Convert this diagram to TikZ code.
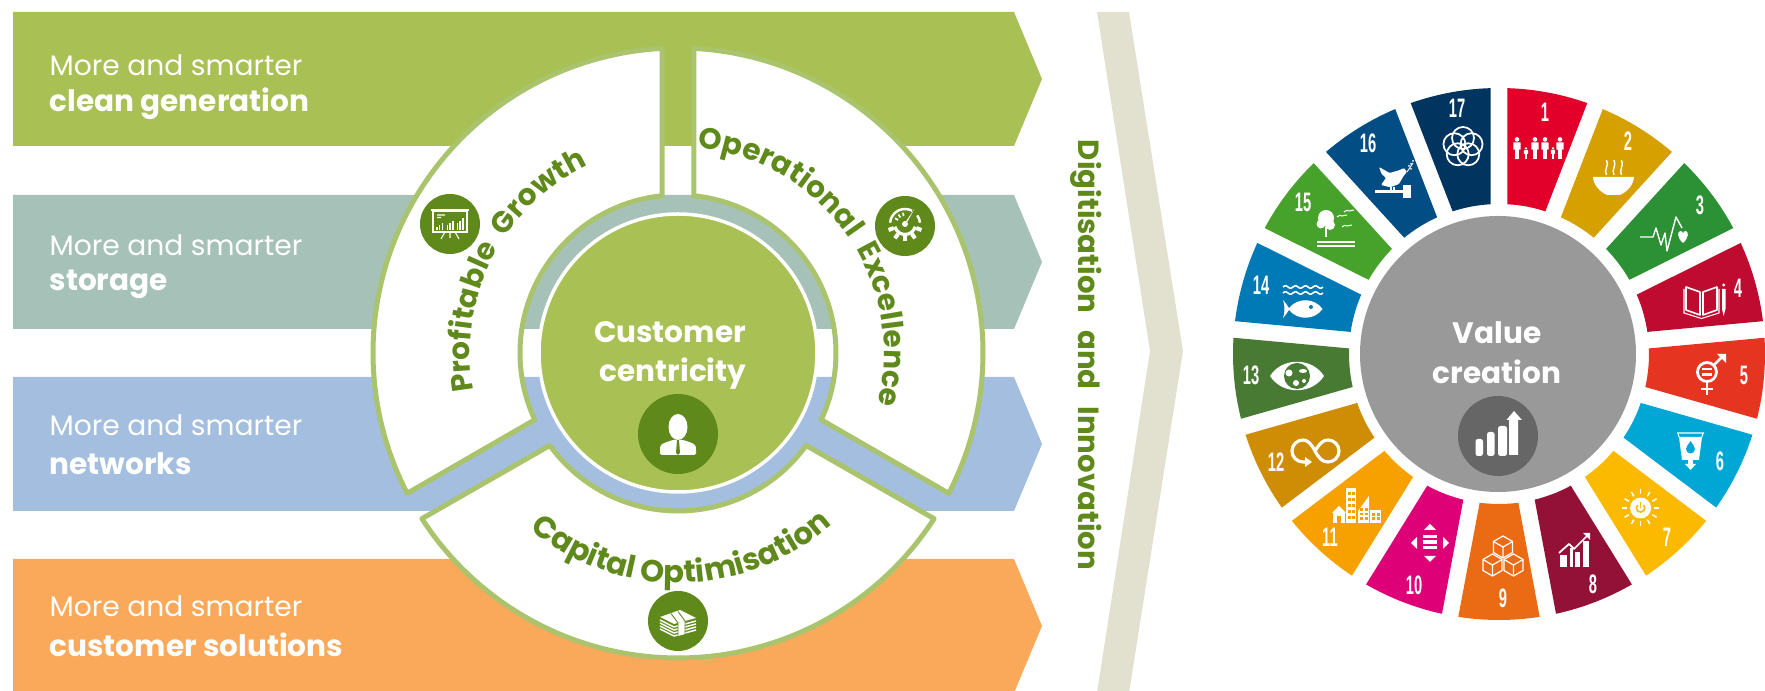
\documentclass[tikz,border=0pt]{standalone}
\usepackage{fontspec}
\usepackage{xcolor}
\setmainfont{Poppins}
\newfontfamily\numfont[FakeStretch=0.55]{Liberation Sans}
\usetikzlibrary{decorations.text}

\definecolor{barclean}{HTML}{A8C054}
\definecolor{barstorage}{HTML}{A6C2B8}
\definecolor{barnet}{HTML}{A3BEDE}
\definecolor{barcust}{HTML}{FAA859}
\definecolor{bandgrey}{HTML}{E2E0CF}
\definecolor{leafgreen}{HTML}{5F8A1B}
\definecolor{ringgreen}{HTML}{A9C46C}
\definecolor{hubgreen}{HTML}{A8C054}
\definecolor{valuegrey}{HTML}{999999}
\definecolor{darkgrey}{HTML}{666666}
\definecolor{sdg1}{HTML}{E2002A}
\definecolor{sdg2}{HTML}{D6A100}
\definecolor{sdg3}{HTML}{2C9135}
\definecolor{sdg4}{HTML}{C00B30}
\definecolor{sdg5}{HTML}{E53521}
\definecolor{sdg6}{HTML}{00A7D4}
\definecolor{sdg7}{HTML}{FBB900}
\definecolor{sdg8}{HTML}{931136}
\definecolor{sdg9}{HTML}{EB6A14}
\definecolor{sdg10}{HTML}{DD0077}
\definecolor{sdg11}{HTML}{F6A100}
\definecolor{sdg12}{HTML}{CF8D05}
\definecolor{sdg13}{HTML}{487A34}
\definecolor{sdg14}{HTML}{007AB7}
\definecolor{sdg15}{HTML}{47A22B}
\definecolor{sdg16}{HTML}{024D84}
\definecolor{sdg17}{HTML}{01345F}

\newcommand{\barfont}{\fontsize{8pt}{9pt}\selectfont}
\newcommand{\barboldfont}{\fontsize{8.4pt}{10pt}\selectfont\bfseries}
\newcommand{\digitfont}{\fontsize{8.3pt}{10pt}\selectfont\bfseries}
\newcommand{\hubfont}{\fontsize{8.4pt}{10pt}\selectfont\bfseries}
\newcommand{\arcfont}{\fontsize{8.4pt}{10pt}\selectfont\bfseries\color{leafgreen}}
\newcommand{\arcwidefont}{\fontsize{8.7pt}{10pt}\selectfont\bfseries\color{leafgreen}}
% little figure of goal 1: x, base, height
\newcommand{\sdgperson}[3]{
	\fill (#1,#2+#3*.89) circle[radius=#3*.105];
	\fill[rounded corners=.2] (#1-#3*.17,#2+#3*.42) rectangle (#1+#3*.17,#2+#3*.76);
	\fill (#1-#3*.11,#2) rectangle (#1+#3*.11,#2+#3*.5);
}
% cube of goal 9: x, y, edge
\newcommand{\sdgcube}[3]{
	\draw[line width=.35,line join=round] (#1,#2+#3) -- (#1+#3*.87,#2+#3*.5) -- (#1+#3*.87,#2-#3*.5) -- (#1,#2-#3) -- (#1-#3*.87,#2-#3*.5) -- (#1-#3*.87,#2+#3*.5) -- cycle;
	\draw[line width=.35] (#1-#3*.87,#2+#3*.5) -- (#1,#2) -- (#1+#3*.87,#2+#3*.5) (#1,#2) -- (#1,#2-#3);
}

\tikzset{
	barlabel/.style={anchor=west,inner sep=0pt,white,font=\barfont},
	barword/.style={anchor=west,inner sep=0pt,white,font=\barboldfont},
	hublabel/.style={inner sep=0pt,white,font=\hubfont},
	numlabel/.style={inner sep=0pt,white,font=\numfont\bfseries\fontsize{7.6pt}{8pt}\selectfont},
	wedge/.style={fill=white,draw=ringgreen,line width=.5mm,line join=round},
	arclabel/.style 2 args={decorate,decoration={text along path,text align={center},text={|#1|#2}}}
}

\begin{document}
\begin{tikzpicture}[x=0.01cm,y=0.01cm]
\useasboundingbox (0,0) rectangle (1765,691);
\clip (0,0) rectangle (1765,691);

\foreach \barcol/\bary in {barclean/545,barstorage/362,barnet/180,barcust/-2}{
	\fill[\barcol] (13,\bary) -- (1014,\bary) -- (1042,\bary+67) -- (1014,\bary+134) -- (13,\bary+134) -- cycle;
}
\fill[bandgrey] (1097,679) -- (1129,679) -- (1183,340) -- (1129,-2) -- (1097,-2) -- (1150,340) -- cycle;

\node[barlabel] (more1) at (49,626) {More and smarter};
\node[barword] (word1) at (49,587) {clean generation};
\node[barlabel] (more2) at (49,446) {More and smarter};
\node[barword] (word2) at (49,407) {storage};
\node[barlabel] (more3) at (49,266) {More and smarter};
\node[barword] (word3) at (49,227) {networks};
\node[barlabel] (more4) at (49,85) {More and smarter};
\node[barword] (word4) at (49,46) {customer solutions};

\node[inner sep=0pt,rotate=-90,text=leafgreen,font=\digitfont] (digit) at (1086,336) {Digitisation\hspace{.58em}and\hspace{.58em}Innovation};

% left wheel
\begin{scope}[shift={(678,338)}]
	\draw[wedge] (93:305) arc[start angle=93,end angle=207.4,radius=305] -- (205:158) arc[start angle=205,end angle=95.8,radius=158] -- cycle;
	\draw[wedge] (87:305) arc[start angle=87,end angle=-27.4,radius=305] -- (-25:158) arc[start angle=-25,end angle=84.2,radius=158] -- cycle;
	\draw[wedge] (212.9:305) arc[start angle=212.9,end angle=327.1,radius=305] -- (324.2:158) arc[start angle=324.2,end angle=215.8,radius=158] -- cycle;
	\draw[fill=hubgreen,draw=white,line width=.35mm] (0,0) circle[radius=139];
	\path[arclabel={\arcfont}{Profitable{ } Growth}] (200:208) arc[start angle=200,end angle=106,radius=208];
	\path[arclabel={\arcfont}{Operational{ } Excellence}] (95:206) arc[start angle=95,end angle=-25,radius=206];
	\path[arclabel={\arcwidefont}{Capital Optimisation}] (216:230) arc[start angle=216,end angle=326,radius=230];
\end{scope}
\node[hublabel] (customer) at (670,359) {Customer};
\node[hublabel] (centricity) at (673,317) {centricity};

% profitable growth icon
\fill[leafgreen] (450,467) circle[radius=30];
\begin{scope}[shift={(450,467)},white]
	\draw[line width=.3] (-17,-8) rectangle (17,13);
	\draw[line width=.5] (-19,14) -- (19,14);
	\draw[line width=.4] (-17,-8.5) -- (17,-8.5);
	\draw[line width=.3] (-13,9) -- (-5,9) (-13,6.5) -- (-9,6.5) (-5,-8) -- (-9,-15) (5,-8) -- (9,-15) (0,-8) -- (0,-14);
	\foreach \bx/\bh in {-14/3,-11.5/5,-8.5/7,-3.5/5,-1/7,2/9,6.5/7,9/9,12/12}{
		\fill (\bx,-6) rectangle (\bx+1.7,-6+\bh);
	}
\end{scope}
% operational excellence icon
\fill[leafgreen] (905,465) circle[radius=30];
\begin{scope}[shift={(905,467)},white]
	\draw[line width=.7] (175:15) arc[start angle=175,end angle=62,radius=15];
	\draw[line width=.7] (35:15) arc[start angle=35,end angle=5,radius=15];
	\foreach \ang in {150,125,100}{
		\draw[line width=.5] (\ang:8) -- (\ang:11.5);
	}
	\fill (-1.6,-1) -- (1.6,1) -- (9.5,15) -- cycle;
	\fill (0,0) circle[radius=3];
	\draw[line width=.9] (195:10.5) arc[start angle=195,end angle=345,radius=10.5];
	\foreach \ang in {200,235,270,305,340}{
		\fill[rotate=\ang] (12,-2) rectangle (17.5,2);
	}
\end{scope}
% capital optimisation icon
\fill[leafgreen] (678,70) circle[radius=30];
\begin{scope}[shift={(678,70)},white]
	\fill (-18,4) -- (2,11) -- (18,3) -- (-4,-3) -- cycle;
	\foreach \stk in {1,...,4}{
		\draw[line width=.42,line join=round] (-18,4-\stk*3) -- (-4,-3-\stk*3) -- (18,3-\stk*3);
	}
	\fill (0,-2) -- (7,0) -- (7,-13) -- (0,-15) -- cycle;
	\draw[leafgreen,line width=.25] (-7,7.5) -- (0,-2) -- (0,-15) (0,9.5) -- (7,0) -- (7,-13);
\end{scope}
% person icon
\fill[leafgreen] (678,257) circle[radius=40];
\begin{scope}[white]
	\fill (678,264) ellipse[x radius=9.5,y radius=13];
	\fill[rounded corners=.45] (660,236) -- (660,243) .. controls (661,248) and (668,249) .. (672,251) -- (684,251) .. controls (688,249) and (695,248) .. (696,243) -- (696,236) -- cycle;
	\fill[leafgreen] (677,251) -- (679,251) -- (680,238) -- (678,236) -- (676,238) -- cycle;
\end{scope}

% right wheel
\fill[valuegrey] (1498,337) circle[radius=138];
\begin{scope}[shift={(1499,337)}]
	\foreach \n in {1,...,17}{
		\pgfmathsetmacro{\aa}{90-(\n-1)*360/17}
		\pgfmathsetmacro{\ab}{\aa-360/17}
		\fill[sdg\n] (\aa-1.79:266) arc[start angle=\aa-1.79,end angle=\ab+1.79,radius=266] -- (\ab+3.17:150) arc[start angle=\ab+3.17,end angle=\aa-3.17,radius=150] -- cycle;
	}
\end{scope}
\foreach \n/\numx/\numy in {1/1545/579,2/1628/550,3/1700/486,4/1738/403,5/1744/316,6/1720/230,7/1667/154,8/1593/107,9/1503/93,10/1414/106,11/1330/154,12/1276/229,13/1251/316,14/1261/406,15/1303/489,16/1368/548,17/1457/583}{
	\node[numlabel] (num\n) at (\numx,\numy) {\n};
}
\node[hublabel] (value) at (1497,358) {Value};
\node[hublabel] (creation) at (1497,319) {creation};

% value icon
\fill[darkgrey] (1498,255) circle[radius=40];
\begin{scope}[white]
	\fill[rounded corners=.7] (1475.5,235) rectangle (1483,252);
	\fill[rounded corners=.7] (1487,235) rectangle (1494.6,259);
	\fill[rounded corners=.7] (1498,235) rectangle (1507,265);
	\fill (1509,236) -- (1509,271) -- (1506.5,271) -- (1514,280) -- (1522,271) -- (1518,271) -- (1518,236) -- cycle;
\end{scope}

\begin{scope}[white,fill=white,draw=white]
	% goal 1
	\sdgperson{1517}{532}{22}
	\sdgperson{1526}{532}{12}
	\sdgperson{1535}{532}{22}
	\sdgperson{1545}{532}{22}
	\sdgperson{1553}{532}{12}
	\sdgperson{1560}{532}{22}
	% goal 2
	\fill (1593,514) -- (1634,514) .. controls (1633,503) and (1624,498) .. (1620,496) -- (1607,496) .. controls (1603,498) and (1594,503) .. (1593,514) -- cycle;
	\foreach \sx in {1606.5,1614,1621.5}{
		\draw[line width=.4] (\sx,531) .. controls (\sx+3,526) and (\sx-3,521) .. (\sx,516);
	}
	% goal 3
	\draw[line width=.4,line join=round] (1640,454) -- (1653,454) -- (1656,463) -- (1661,446) -- (1665,458) -- (1667,440) -- (1676,474) -- (1682,463);
	\fill (1683,448) .. controls (1677,453) and (1677,460) .. (1680.5,460) .. controls (1682,460) and (1683,459) .. (1683,457) .. controls (1683,459) and (1684,460) .. (1685.5,460) .. controls (1689,460) and (1689,453) .. (1683,448);
	% goal 4
	\draw[line width=.45,line join=round] (1686,404) -- (1700,399) -- (1700,376) -- (1686,381) -- cycle;
	\draw[line width=.45,line join=round] (1717,404) -- (1703,399) -- (1703,376) -- (1717,381) -- cycle;
	\draw[line width=.3] (1684,402) -- (1684,378) -- (1701.5,372.5) -- (1719,378) -- (1719,402);
	\fill (1722,402) -- (1725.5,402) -- (1725.5,382) -- (1723.7,375) -- (1722,382) -- cycle;
	\fill (1723.7,406) circle[radius=1.6];
	% goal 5
	\draw[line width=.8] (1707,319) circle[radius=9.5];
	\fill (1702,320.5) rectangle (1712,323);
	\fill (1702,315) rectangle (1712,317.5);
	\draw[line width=.8] (1714,326) -- (1724,336);
	\fill (1717,337) -- (1726,337) -- (1726,328) -- cycle;
	\draw[line width=.8] (1707,309) -- (1707,296) (1701,302) -- (1713,302);
	% goal 6
	\fill (1679,254) -- (1702,254) -- (1699,231) -- (1682,231) -- cycle;
	\draw[line width=.3] (1677,258) -- (1704,258) (1678,258) -- (1679,254) (1703,258) -- (1702,254);
	\fill[sdg6] (1690.5,250) .. controls (1688,246) and (1686,244) .. (1686,242) arc[start angle=180,end angle=360,radius=4.5] .. controls (1695,244) and (1693,246) .. (1690.5,250);
	\fill (1688,232) rectangle (1693,226);
	\fill (1685,227) -- (1696,227) -- (1690.5,221) -- cycle;
	% goal 7
	\fill (1640.6,183) circle[radius=10.5];
	\draw[sdg7,line width=.45] (1637.6,186) arc[start angle=135,end angle=405,radius=4.2];
	\draw[sdg7,line width=.45] (1640.6,189) -- (1640.6,183);
	\foreach \ang in {0,30,...,330}{
		\draw[line width=.4] ([shift={(\ang:13.5)}]1640.6,183) -- ([shift={(\ang:18.5)}]1640.6,183);
	}
	% goal 8
	\fill (1560,124) rectangle (1567,136);
	\fill (1569.5,124) rectangle (1572.5,143);
	\fill (1575,124) rectangle (1580,139);
	\fill (1583,124) rectangle (1589,150);
	\draw[line width=.5,line join=round] (1559,138) -- (1569,147) -- (1574,142) -- (1587,155);
	\fill (1583,158) -- (1590,158) -- (1590,151) -- cycle;
	% goal 9
	\sdgcube{1503}{144}{11}
	\sdgcube{1492.5}{126}{11}
	\sdgcube{1513.5}{126}{11}
	% goal 10
	\fill (1430,167) -- (1424,161) -- (1436,161) -- cycle;
	\fill (1430,129) -- (1424,135) -- (1436,135) -- cycle;
	\fill (1411,148) -- (1417,154) -- (1417,142) -- cycle;
	\fill (1449,148) -- (1443,154) -- (1443,142) -- cycle;
	\foreach \by in {152.5,147,141.5}{
		\fill (1423,\by) rectangle (1437,\by+3.5);
	}
	% goal 11
	\fill (1333,168) rectangle (1344.5,179);
	\fill (1332,178) -- (1339,185) -- (1346,178) -- cycle;
	\fill[sdg11] (1337,168) rectangle (1341,175);
	\fill (1346,168) rectangle (1356,203);
	\fill (1358,168) -- (1358,180) -- (1369,195) -- (1369,168) -- cycle;
	\fill (1370,168) rectangle (1381,181);
	\foreach \wy in {172,178,184,190,196}{
		\fill[sdg11] (1348,\wy) rectangle (1350.5,\wy+3);
		\fill[sdg11] (1352,\wy) rectangle (1354.5,\wy+3);
	}
	\foreach \wy in {171,175.5,180}{
		\fill[sdg11] (1360,\wy) rectangle (1363,\wy+2.5);
		\fill[sdg11] (1364.5,\wy) rectangle (1367.5,\wy+2.5);
	}
	\foreach \wy in {171,175}{
		\fill[sdg11] (1372,\wy) rectangle (1375,\wy+2.5);
		\fill[sdg11] (1376.5,\wy) rectangle (1379.5,\wy+2.5);
	}
	% goal 12
	\draw[line width=.9] (1315,240) .. controls (1320,248) and (1323,251) .. (1328,251) arc[start angle=90,end angle=-90,radius=11] .. controls (1322,229) and (1319,233) .. (1315,240) .. controls (1311,248) and (1307,251) .. (1303,251) arc[start angle=90,end angle=270,radius=11] -- (1307,229);
	\fill (1305,224) -- (1305,234) -- (1312,229) -- cycle;
	% goal 13
	\fill (1270,315) .. controls (1282,334) and (1312,334) .. (1324,315) .. controls (1312,296) and (1282,296) .. (1270,315);
	\fill[sdg13] (1297,315) circle[radius=13];
	\fill (1289,318) circle[radius=3.5];
	\fill (1296,308) circle[radius=3];
	\fill (1303,320) ellipse[x radius=4,y radius=2];
	\fill (1304,310) circle[radius=2];
	% goal 14
	\foreach \wavey in {404,398}{
		\draw[line width=.45] plot[domain=0:40,samples=41,smooth] (1283+\x,{\wavey+1.2*sin(\x*36)});
	}
	\fill (1322.5,382) .. controls (1315,393) and (1298,394) .. (1289,383) .. controls (1287,386) and (1285,389) .. (1283,391) .. controls (1285,386) and (1285,378) .. (1283,373) .. controls (1285,375) and (1287,378) .. (1289,381) .. controls (1298,370) and (1315,371) .. (1322.5,382);
	\fill[sdg14] (1311,384) circle[radius=2];
	% goal 15
	\fill (1326,473) circle[radius=8];
	\fill (1321,467) circle[radius=4.5];
	\fill (1330,466) circle[radius=5];
	\fill (1325,454) rectangle (1327,464);
	\fill (1317,447.5) rectangle (1355,450);
	\fill (1317,443.5) rectangle (1355,446);
	\foreach \bdx/\bdy in {1342/475,1349/480,1347/465}{
		\draw[line width=.3] (\bdx-5,\bdy-1) .. controls (\bdx-2,\bdy+1) .. (\bdx,\bdy) .. controls (\bdx+2,\bdy+1) .. (\bdx+5,\bdy+1);
	}
	% goal 16
	\fill[rounded corners=.3] (1379,524) -- (1389.6,518) -- (1400,521) -- (1404,523) -- (1407,519) -- (1403.5,515) -- (1399,507) -- (1390.3,503.7) -- (1381,506) -- (1386,513) -- (1381.6,517) -- cycle;
	\draw[line width=.25] (1407,519) -- (1413,528);
	\foreach \lfx/\lfy in {1409/525,1411/522,1411/527,1413/530}{
		\fill (\lfx,\lfy) circle[radius=1];
	}
	\draw[line width=.3] (1391,504) -- (1391,500) (1394,504) -- (1394,500);
	\fill (1375,497.5) rectangle (1403,500.5);
	\fill (1403,492.5) rectangle (1411,506);
	% goal 17
	\foreach \ang in {90,162,234,306,378}{
		\draw[line width=.5] ([shift={(\ang:9)}]1463,544) circle[radius=11];
	}
\end{scope}
\end{tikzpicture}
\end{document}
